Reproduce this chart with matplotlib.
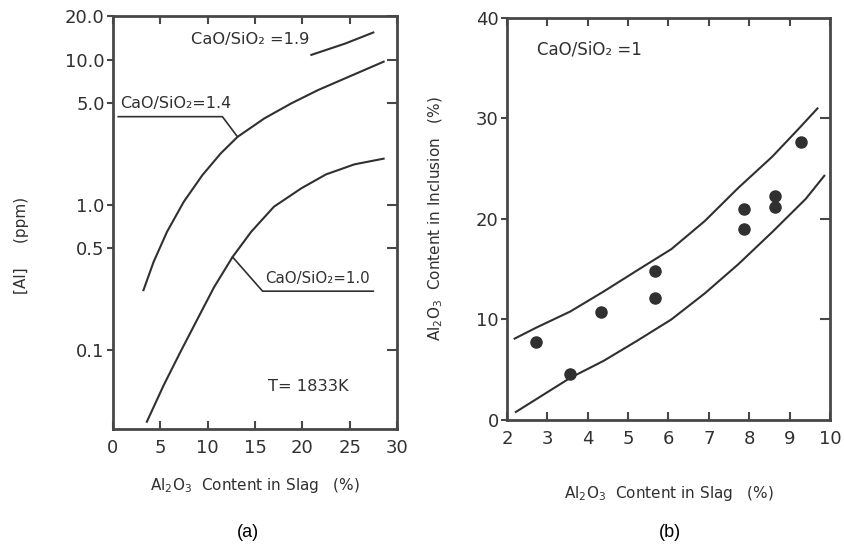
import matplotlib
matplotlib.use("Agg")
import matplotlib.pyplot as plt

# (a) [Al] vs Al2O3 in slag, three basicities
r10_x = [3.58, 5.35, 7.13, 8.9, 10.67, 12.63, 14.6, 17.0, 19.9, 22.5, 25.5, 28.59]
r10_y = [0.032, 0.057, 0.097, 0.162, 0.27, 0.437, 0.652, 0.97, 1.3, 1.62, 1.9, 2.08]
r14_x = [3.22, 4.29, 5.71, 7.48, 9.44, 11.38, 13.16, 15.99, 18.83, 21.67, 24.5, 28.59]
r14_y = [0.258, 0.404, 0.652, 1.05, 1.60, 2.26, 2.94, 3.94, 5.0, 6.18, 7.43, 9.69]
r19_x = [20.96, 24.5, 27.5]
r19_y = [10.8, 12.9, 15.4]

a_yticks = [0.1, 0.5, 1.0, 5.0, 10.0, 20.0]
a_ylabels = ["0.1", "0.5", "1.0", "5.0", "10.0", "20.0"]

# (b) Al2O3 in inclusion vs Al2O3 in slag
slag = [2.73, 3.57, 4.32, 5.67, 5.67, 7.87, 7.87, 8.65, 8.65, 9.29]
incl = [7.8, 4.6, 10.7, 14.8, 12.1, 21.0, 19.0, 22.3, 21.2, 27.7]
upper_x = [2.19, 2.73, 3.57, 4.4, 5.23, 6.07, 6.9, 7.73, 8.57, 9.23, 9.69]
upper_y = [8.1, 9.2, 10.8, 12.8, 14.9, 17.0, 19.8, 23.1, 26.2, 29.0, 31.0]
lower_x = [2.22, 3.57, 4.4, 5.23, 6.07, 6.9, 7.73, 8.57, 9.4, 9.86]
lower_y = [0.8, 4.2, 5.9, 7.9, 10.0, 12.6, 15.5, 18.7, 22.0, 24.3]

INK = "#303030"
SPINE = "#474747"
plt.rcParams["font.family"] = ["DejaVu Sans"]

fig = plt.figure(figsize=(8.45, 5.47), dpi=100)
ax1 = fig.add_axes([0.1337, 0.2157, 0.3361, 0.755])
ax2 = fig.add_axes([0.6, 0.2322, 0.3822, 0.7349])


def style_frame(ax):
    for s in ax.spines.values():
        s.set_color(SPINE)
        s.set_linewidth(2.0)


# ---- panel (a) ----
for xs, ys in [(r10_x, r10_y), (r14_x, r14_y), (r19_x, r19_y)]:
    ax1.plot(xs, ys, color=INK, lw=1.5)
ax1.set_yscale("log")
ax1.set_xlim(0, 30)
ax1.set_ylim(0.0285, 20)
ax1.set_yticks(a_yticks)
ax1.set_yticklabels(a_ylabels)
ax1.minorticks_off()
ax1.set_xticks([0, 5, 10, 15, 20, 25, 30])
ax1.tick_params(axis="x", direction="in", length=6, width=1.5, color=SPINE,
                top=True, labelsize=13, labelcolor=INK, pad=7)
ax1.tick_params(axis="y", direction="out", length=4, width=1.5, color=SPINE,
                labelsize=13, labelcolor=INK, pad=2)
style_frame(ax1)
tw = ax1.twinx()
tw.set_yscale("log")
tw.set_ylim(ax1.get_ylim())
tw.set_yticks(a_yticks)
tw.minorticks_off()
tw.tick_params(axis="y", direction="in", length=7, width=1.5, color=SPINE, labelright=False)
tw.spines[:].set_visible(False)

ax1.text(8.2, 13.7, "CaO/SiO₂ =1.9", fontsize=11.7, color=INK, va="center")
ax1.text(0.75, 5.0, "CaO/SiO₂=1.4", fontsize=11.5, color=INK, va="center")
ax1.plot([0.56, 11.56, 13.16], [4.05, 4.05, 2.94], color=INK, lw=1.2)
ax1.text(16.1, 0.31, "CaO/SiO₂=1.0", fontsize=10.8, color=INK, va="center")
ax1.plot([12.63, 15.8, 27.5], [0.437, 0.254, 0.254], color=INK, lw=1.2)
ax1.text(16.35, 0.0556, "T= 1833K", fontsize=11.7, color=INK, va="center")

ax1.set_xlabel("Al$_2$O$_3$  Content in Slag   (%)", fontsize=11, color=INK, labelpad=14)
fig.text(0.026, 0.552, "[Al]     (ppm)", rotation=90, fontsize=11, color=INK,
         ha="center", va="center")

# ---- panel (b) ----
ax2.plot(upper_x, upper_y, color=INK, lw=1.5)
ax2.plot(lower_x, lower_y, color=INK, lw=1.5)
ax2.plot(slag, incl, "o", color=INK, ms=8, mec=INK)
ax2.set_xlim(2, 10)
ax2.set_ylim(0, 40)
ax2.set_xticks(range(2, 11))
ax2.set_yticks([0, 10, 20, 30, 40])
ax2.tick_params(axis="x", direction="in", length=6, width=1.5, color=SPINE,
                top=True, labelsize=13, labelcolor=INK, pad=7)
ax2.tick_params(axis="y", direction="out", length=4, width=1.5, color=SPINE,
                labelsize=13, labelcolor=INK, pad=2)
style_frame(ax2)
tw2 = ax2.twinx()
tw2.set_ylim(0, 40)
tw2.set_yticks([10, 20, 30])
tw2.tick_params(axis="y", direction="in", length=7, width=1.5, color=SPINE, labelright=False)
tw2.spines[:].set_visible(False)

ax2.text(2.75, 36.9, "CaO/SiO₂ =1", fontsize=12, color=INK, va="center")
ax2.set_xlabel("Al$_2$O$_3$  Content in Slag   (%)", fontsize=11, color=INK, labelpad=26)
ax2.set_ylabel("Al$_2$O$_3$  Content in Inclusion   (%)", fontsize=11, color=INK, labelpad=22)

fig.text(0.293, 0.027, "(a)", fontsize=13, family="Liberation Sans", ha="center", va="center")
fig.text(0.793, 0.027, "(b)", fontsize=13, family="Liberation Sans", ha="center", va="center")

fig.savefig("out.png", dpi=100)
